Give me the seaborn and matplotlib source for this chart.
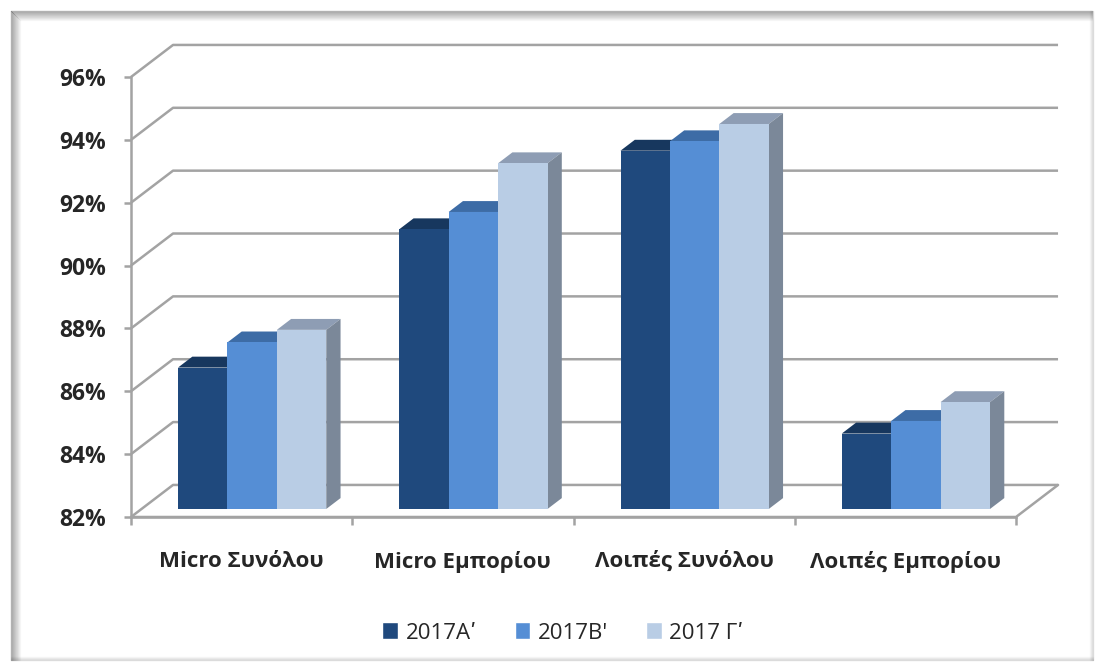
import numpy as np
import pandas as pd
import seaborn as sns
import matplotlib.pyplot as plt
from matplotlib.patches import Polygon, Rectangle
from matplotlib.lines import Line2D

# values (percent)
categories = ['Micro Συνόλου', 'Micro Εμπορίου', 'Λοιπές Συνόλου', 'Λοιπές Εμπορίου']
periods = ['2017Αʹ', "2017Β'", '2017 Γʹ']
val_a = [86.5, 90.9, 93.4, 84.4]
val_b = [87.3, 91.45, 93.7, 84.8]
val_c = [87.7, 93.0, 94.25, 85.4]
y_ticks = [82, 84, 86, 88, 90, 92, 94, 96]

front_colors = ['#1F497D', '#558ED5', '#B9CDE5']
top_colors = ['#17375E', '#3D6CA6', '#8E9DB4']
side_colors = ['#173A63', '#4672AB', '#7B8899']
grid_col = '#A3A3A3'

df = pd.DataFrame({
    'category': categories * 3,
    'period': np.repeat(periods, len(categories)),
    'value': val_a + val_b + val_c,
})

sns.set_style('white')
plt.rcParams['font.family'] = ['Open Sans', 'DejaVu Sans']

W, H = 1099, 666
fig = plt.figure(figsize=(W / 100, H / 100), dpi=100)
ax = fig.add_axes([131 / W, 149 / H, 885 / W, 440 / H])

sns.barplot(data=df, x='category', y='value', hue='period', palette=front_colors,
            width=0.67, saturation=1, linewidth=0, legend=False, ax=ax)

ymin, ymax = y_ticks[0], y_ticks[-1]
ax.set_xlim(-0.5, 3.5)
ax.set_ylim(ymin, ymax)

# depth of the fake 3d box, in data units
DX, DY = 0.19, 1.02
d0, d1 = 0.25, 0.59

# back wall grid + floor
for t in y_ticks:
    ax.plot([-0.5, -0.5 + DX, 3.5 + DX], [t, t + DY, t + DY], color=grid_col, lw=1.8,
            clip_on=False, zorder=1, solid_capstyle='butt')
ax.plot([-0.5, 3.5, 3.5 + DX], [ymin, ymin, ymin + DY], color=grid_col, lw=1.8,
        clip_on=False, zorder=1)

# turn flat bars into boxes
for j, cont in enumerate(ax.containers):
    for rect in cont:
        x0 = rect.get_x()
        w = rect.get_width()
        v = rect.get_height()
        x1 = x0 + w
        rect.set_x(x0 + d0 * DX)
        rect.set_y(ymin + d0 * DY)
        rect.set_height(v - ymin)
        rect.set_clip_on(False)
        rect.set_zorder(3 + j * 0.1 + 0.05)
        top = Polygon([(x0 + d0 * DX, v + d0 * DY), (x1 + d0 * DX, v + d0 * DY),
                       (x1 + d1 * DX, v + d1 * DY), (x0 + d1 * DX, v + d1 * DY)],
                      closed=True, facecolor=top_colors[j], edgecolor='none',
                      clip_on=False, zorder=3 + j * 0.1)
        side = Polygon([(x1 + d0 * DX, ymin + d0 * DY), (x1 + d1 * DX, ymin + d1 * DY),
                        (x1 + d1 * DX, v + d1 * DY), (x1 + d0 * DX, v + d0 * DY)],
                       closed=True, facecolor=side_colors[j], edgecolor='none',
                       clip_on=False, zorder=3 + j * 0.1)
        ax.add_patch(top)
        ax.add_patch(side)

sns.despine(ax=ax)
for s in ['left', 'bottom']:
    ax.spines[s].set_color(grid_col)
    ax.spines[s].set_linewidth(1.8)
    ax.spines[s].set_zorder(2)

ax.set_yticks(y_ticks)
ax.set_yticklabels([f'{t}%' for t in y_ticks], fontweight='bold', fontsize=16.5)
ax.tick_params(axis='y', left=True, length=5, width=1.8, color=grid_col, pad=13)

ax.set_xticks(range(len(categories)))
ax.set_xticklabels(categories, fontweight='bold', fontsize=16)
ax.set_xticks(np.arange(-0.5, 4, 1), minor=True)
ax.tick_params(axis='x', which='major', bottom=False, pad=21)
ax.tick_params(axis='x', which='minor', bottom=True, length=6, width=1.8, color=grid_col)
ax.set_xlabel('')
ax.set_ylabel('')

handles = [Rectangle((0, 0), 1, 1, facecolor=c) for c in front_colors]
fig.legend(handles, periods, loc='center', bbox_to_anchor=(563 / W, 1 - 633 / H), ncol=3,
           frameon=False, fontsize=16, handlelength=0.7, handleheight=0.8,
           columnspacing=1.7, handletextpad=0.35)

# shadowed outer frame
for i in range(10):
    a = 0.45 * (1 - i / 10)
    fig.add_artist(Line2D([(11 + i) / W] * 2, [1 - (11 + i) / H, 1 - 660 / H],
                          transform=fig.transFigure, color='black', alpha=a * 0.6, lw=1))
    fig.add_artist(Line2D([(11 + i) / W, 1092 / W], [1 - (11 + i) / H] * 2,
                          transform=fig.transFigure, color='black', alpha=a * 0.6, lw=1))
for i in range(4):
    a = 0.12 * (1 - i / 4)
    fig.add_artist(Line2D([(1093 - i) / W] * 2, [1 - 11 / H, 1 - 660 / H],
                          transform=fig.transFigure, color='black', alpha=a, lw=1))
    fig.add_artist(Line2D([11 / W, 1093 / W], [1 - (660 - i) / H] * 2,
                          transform=fig.transFigure, color='black', alpha=a, lw=1))

fig.savefig('out.png', dpi=100)
